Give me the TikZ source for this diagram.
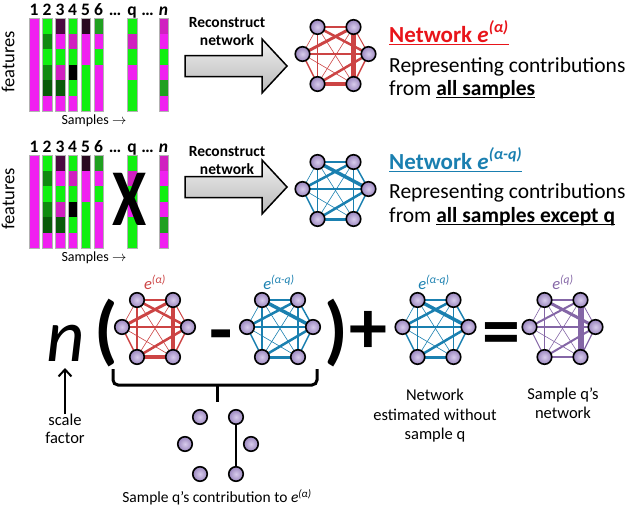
\documentclass[tikz,border=0pt]{standalone}
\usepackage{fontspec}
\setmainfont{Carlito}
\usetikzlibrary{arrows.meta}
\definecolor{hM}{HTML}{F020F0}
\definecolor{hMd}{HTML}{D020C0}
\definecolor{hG}{HTML}{10F010}
\definecolor{hGm}{HTML}{20A020}
\definecolor{hGd}{HTML}{108A10}
\definecolor{hGdd}{HTML}{0A5A0A}
\definecolor{hP}{HTML}{4A0A40}
\definecolor{hPd}{HTML}{2A0A20}
\definecolor{hK}{HTML}{000000}
\definecolor{netred}{HTML}{CC4444}
\definecolor{netblue}{HTML}{1A80B0}
\definecolor{netpurple}{HTML}{8466A6}
\definecolor{titlered}{HTML}{E8141A}
\definecolor{titleblue}{HTML}{1A7FB0}
\definecolor{lav}{HTML}{9A86BE}
\definecolor{lavL}{HTML}{D8CCEC}
\newcommand\fs[2]{\fontsize{#1}{#2}\selectfont}
\newcommand\uln[1]{\setbox0=\hbox{#1}\rlap{\rule[-3pt]{\wd0}{1.5pt}}\box0}
\newcommand\heatcol[3]{%
  \foreach \c [count=\i] in {#3} {\fill[\c] ({#1-4.8},{#2+(\i-1)*15.6}) rectangle ++(9.6,15.6);}
  \draw[gray!60,line width=0.4] ({#1-4.8},#2) rectangle ++(9.6,93.6);}
\newcommand\heatmap[2]{%
  \heatcol{34}{#1}{hM,hM,hM,hM,hM,hM}
  \heatcol{47}{#1}{hG,hGd,hG,hGd,hGdd,hM}
  \heatcol{60}{#1}{hP,hM,hG,hMd,hGdd,hM}
  \heatcol{72.5}{#1}{hG,hMd,hG,hK,hG,hM}
  \heatcol{85.5}{#1}{hPd,hM,hM,hG,hG,hG}
  \heatcol{98.5}{#1}{hGm,hM,hG,hM,hM,hM}
  \heatcol{132}{#1}{hG,hMd,hG,hM,hG,hG}
  \heatcol{163.5}{#1}{hMd,hM,hG,hM,hGm,hM}
  \foreach \x/\t [count=\k] in {34/1,47/2,60/3,72.5/4,85.5/5,98.5/6,115/…,132/q,147.5/…,163.5/\textit{n}}
    {\node[numlbl] (#2l\k) at (\x,{#1-3}) {\t};}
  \node[font=\fs{14}{16}] (#2smp) at (94,{#1+103}) {Samples $\rightarrow$};
  \node[font=\fs{18.5}{20}, rotate=90] (#2feat) at (8,{#1+44}) {features};}
\newcommand\placenet[3]{%
  \coordinate (#1TL) at ({#2-18},{#3-27});
  \coordinate (#1TR) at ({#2+18},{#3-27});
  \coordinate (#1L) at ({#2-33},{#3});
  \coordinate (#1R) at ({#2+33},{#3});
  \coordinate (#1BL) at ({#2-18},{#3+30});
  \coordinate (#1BR) at ({#2+18},{#3+30});}
\newcommand\drawedges[3]{%
  \foreach \a/\b/\w in #3 {\draw[#2,line width=\w pt] (#1\a) -- (#1\b);}}
\newcommand\drawnodes[1]{%
  \foreach \p in {TL,TR,L,R,BL,BR} {\node[netnode] (#1n\p) at (#1\p) {};}}
\newcommand\blockarrow[1]{%
  \shade[top color=gray!12, bottom color=gray!55, draw=black, line width=1.5]
    (185,{#1-10.5}) -- (262,{#1-10.5}) -- (262,{#1-27}) -- (287,#1) -- (262,{#1+27})
    -- (262,{#1+10.5}) -- (185,{#1+10.5}) -- cycle;}
\def\rededges{TL/TR/2, TL/L/0.6, TL/R/2.5, TL/BL/1.5, TL/BR/0.6, TR/L/3, TR/R/1, TR/BL/0.6, TR/BR/4.5, L/R/1.5, L/BL/1.5, L/BR/0.6, R/BL/2.5, R/BR/1.5, BL/BR/3.5}
\def\blueedges{TL/TR/1.5, TL/L/0.6, TL/R/3.5, TL/BL/1.5, TL/BR/0.6, TR/L/2.5, TR/R/1.5, TR/BL/0.6, TR/BR/1.5, L/R/1.5, L/BL/1.5, L/BR/0.6, R/BL/2.5, R/BR/1.5, BL/BR/3}
\def\purpleedges{TL/TR/1.2, TL/L/0.6, TL/R/3, TL/BL/1.5, TL/BR/0.6, TR/L/2, TR/R/0.8, TR/BL/0.6, TR/BR/6, L/R/1.5, L/BL/1, L/BR/0.6, R/BL/2, R/BR/1.2, BL/BR/2}
\begin{document}
\begin{tikzpicture}[x=1pt,y=-1pt,
  netnode/.style={circle,draw=black,line width=1.6pt,minimum size=14.5pt,inner sep=0pt,inner color=lavL,outer color=lav},
  numlbl/.style={font=\fs{17.5}{20}\bfseries,anchor=base,inner sep=0pt},
  elbl/.style={font=\fs{16.5}{18}\itshape,inner sep=0pt},
  bigsym/.style={font=\fs{76}{76}\bfseries,inner sep=0pt}]
\useasboundingbox (0,0) rectangle (625,507);
% ---------- heatmaps ----------
\heatmap{18}{A}
\heatmap{155}{B}
\node[font=\fs{62}{62}\bfseries,inner sep=0pt] (xq) at (130,199) {\scalebox{1}[1.3]{X}};
% ---------- block arrows ----------
\blockarrow{66}
\blockarrow{187}
\node[font=\fs{15.5}{18}\bfseries,align=center,anchor=north,inner sep=0pt] (rec1) at (227,17) {Reconstruct\\network};
\node[font=\fs{15.5}{18}\bfseries,align=center,anchor=north,inner sep=0pt] (rec2) at (227,146) {Reconstruct\\network};
% ---------- top networks ----------
\placenet{N1}{335.5}{54}
\drawedges{N1}{netred}{\rededges}
\drawnodes{N1}
\placenet{N2}{335.5}{189}
\drawedges{N2}{netblue}{\blueedges}
\drawnodes{N2}
% ---------- right texts ----------
\node[anchor=base west,font=\fs{23}{26}\bfseries,text=titlered,inner sep=0pt] (t1) at (389,42) {\uln{Network \textit{e}\textsuperscript{\textit{(α)}}}};
\node[anchor=base west,font=\fs{21.5}{25},inner sep=0pt] (d1a) at (389,72) {Representing contributions};
\node[anchor=base west,font=\fs{21.5}{25},inner sep=0pt] (d1b) at (389,95) {from \uln{\textbf{all samples}}};
\node[anchor=base west,font=\fs{23}{26}\bfseries,text=titleblue,inner sep=0pt] (t2) at (389,169) {\uln{Network \textit{e}\textsuperscript{\textit{(α-q)}}}};
\node[anchor=base west,font=\fs{21.5}{25},inner sep=0pt] (d2a) at (389,198) {Representing contributions};
\node[anchor=base west,font=\fs{21.5}{25},inner sep=0pt] (d2b) at (389,222) {from \uln{\textbf{all samples except q}}};
% ---------- equation ----------
\node[font=\fs{75}{75}\itshape,inner sep=0pt] (nn) at (66,343) {n};
\node[font=\fs{16.5}{18},align=center,inner sep=0pt] (sf) at (65,429) {scale\\factor};
\coordinate (ntip) at (65,368);
\draw[line width=2pt,-{Straight Barb[length=7pt,width=13pt]}] (sf.north) -- (ntip);
\node[bigsym] (lp) at (106,333) {(};
\node[bigsym] (rp) at (336,333) {)};
\node[bigsym] (mi) at (221,343) {-};
\node[bigsym] (pl) at (368,332) {+};
\node[bigsym] (eq) at (501,340) {=};
\placenet{N3}{155}{327}
\drawedges{N3}{netred}{\rededges}
\drawnodes{N3}
\node[elbl,text=netred] (e3) at (155,282) {e\textsuperscript{(α)}};
\placenet{N4}{280}{327}
\drawedges{N4}{netblue}{\blueedges}
\drawnodes{N4}
\node[elbl,text=netblue] (e4) at (279,282) {e\textsuperscript{(α-q)}};
\placenet{N5}{435.5}{327}
\drawedges{N5}{netblue}{\blueedges}
\drawnodes{N5}
\node[elbl,text=netblue] (e5) at (434,282) {e\textsuperscript{(α-q)}};
\placenet{N6}{562.5}{327}
\drawedges{N6}{netpurple}{\purpleedges}
\drawnodes{N6}
\node[elbl,text=netpurple] (e6) at (563,282) {e\textsuperscript{(q)}};
% ---------- brace ----------
\draw[line width=3pt,rounded corners=5pt] (113,369) -- (113,385) -- (317,385) -- (317,369);
\draw[line width=3pt] (217,384) -- (217,402);
% ---------- contribution network ----------
\placenet{N7}{218}{444}
\draw[black,line width=1.2pt] (N7TR) -- (N7BR);
\drawnodes{N7}
% ---------- labels ----------
\node[align=center,font=\fs{16.5}{19.5},inner sep=0pt] (lbl3) at (435,416) {Network\\estimated without\\sample q};
\node[align=center,font=\fs{16.5}{19.5},inner sep=0pt] (lbl4) at (563,403) {Sample q’s\\network};
\node[font=\fs{15.5}{19},inner sep=0pt] (lbl5) at (217,497) {Sample q’s contribution to \textit{e}\textsuperscript{\textit{(α)}}};
\end{tikzpicture}
\end{document}
